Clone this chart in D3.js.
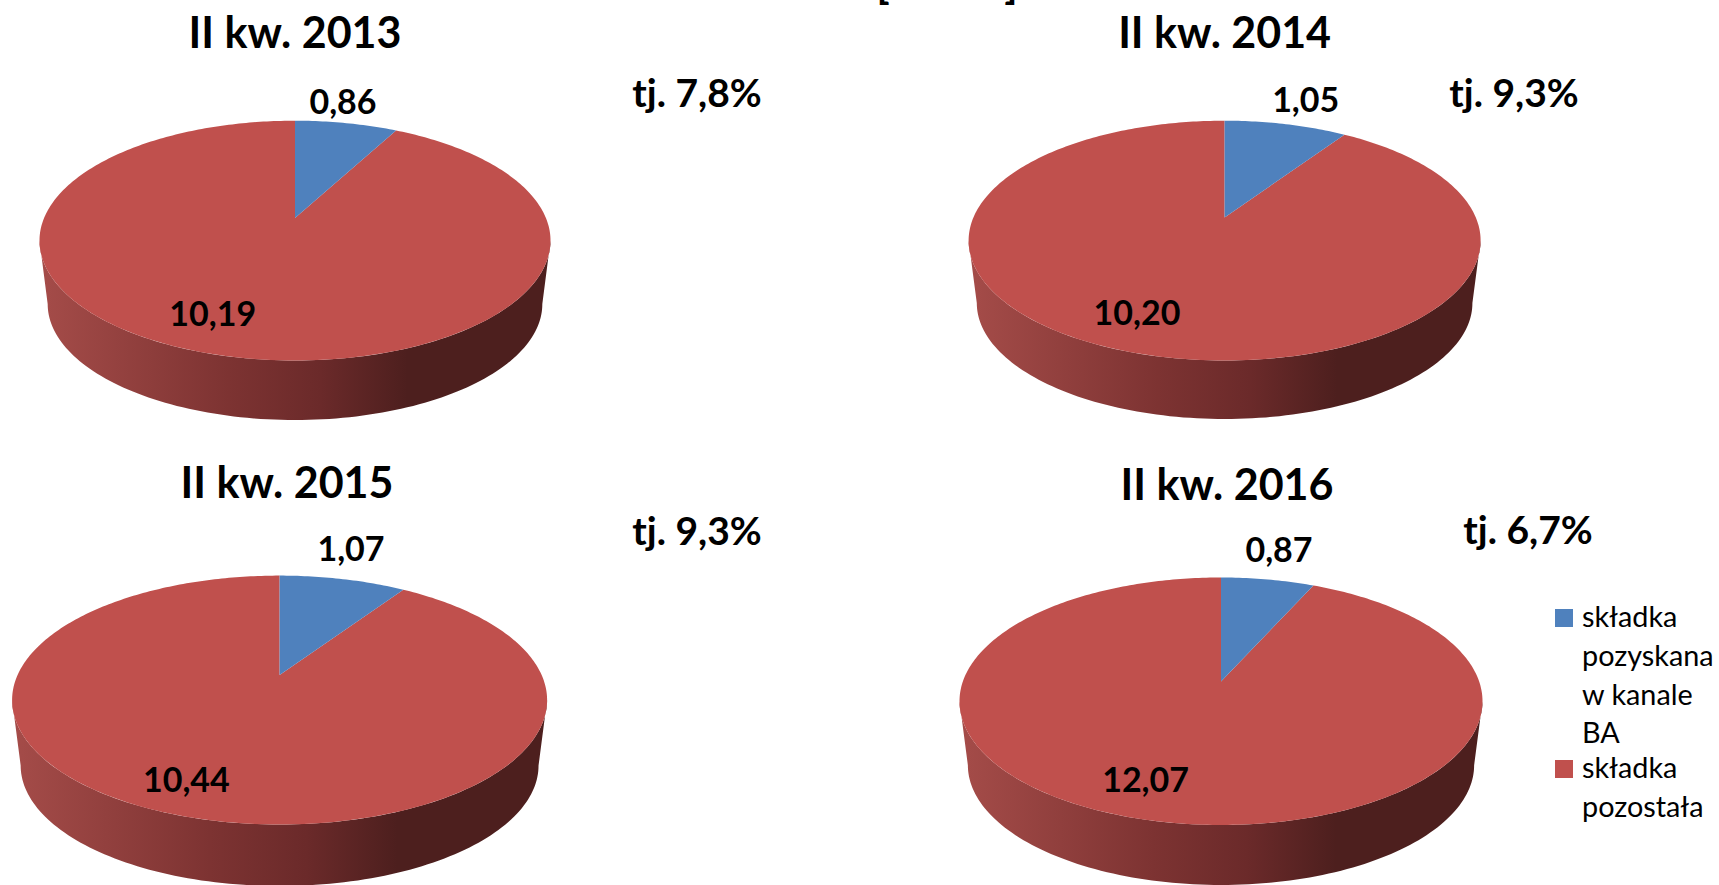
<!DOCTYPE html>
<html>
<head>
<meta charset="utf-8">
<script src="https://cdn.jsdelivr.net/npm/d3@7"></script>
<style>
    html, body { margin: 0; padding: 0; background: #fff; overflow: hidden; }
    svg { display: block; }
    text { font-family: Lato, Carlito, "Open Sans", sans-serif; fill: #000; }
    .bold { font-weight: 700; }
</style>
</head>
<body>
<svg id="chart" width="1719" height="885"></svg>
<script>
const mainTitle = "[mld zł]";
const quarters = ["II kw. 2013", "II kw. 2014", "II kw. 2015", "II kw. 2016"];
const seriesNames = ["składka pozyskana w kanale BA", "składka pozostała"];
const bancassurance = [0.86, 1.05, 1.07, 0.87];
const remaining = [10.19, 10.20, 10.44, 12.07];
const shares = [7.8, 9.3, 9.3, 6.7];

const colors = ["#4f81bd", "#c0504d"];

// Where each pie sits: top ellipse extents and the point the slices meet at
const pieLayout = [
    { cx: 295, rx: 255.5, top: 120.7, bottom: 360.5, apex: 218, wall: 420 },
    { cx: 1224.6, rx: 256, top: 120.7, bottom: 360.5, apex: 217.5, wall: 419 },
    { cx: 279.6, rx: 267.5, top: 575.6, bottom: 824.5, apex: 675, wall: 886 },
    { cx: 1221, rx: 261.5, top: 577.5, bottom: 825, apex: 681.5, wall: 885 }
];
const textLayout = [
    { title: [295, 48], small: [343, 114], big: [212.7, 325.6], share: [697, 107] },
    { title: [1224.6, 48], small: [1305.7, 112], big: [1137, 324.5], share: [1514, 107] },
    { title: [287, 497.6], small: [351, 561], big: [186.4, 791.5], share: [697, 545] },
    { title: [1227, 500], small: [1279, 562], big: [1145.6, 791.5], share: [1528, 544] }
];

const polish = d3.formatLocale({ decimal: ",", thousands: " ", grouping: [3], currency: ["", " zł"] });
const fmtValue = polish.format(".2f");
const fmtShare = polish.format(".1f");

const svg = d3.select("#chart");
const defs = svg.append("defs");
const pie = d3.pie().sort(null);
const line = d3.line();

svg.append("text")
    .attr("class", "bold")
    .attr("x", 947)
    .attr("y", -2)
    .attr("text-anchor", "middle")
    .attr("font-size", 43)
    .text(mainTitle);

// The pies are tilted discs seen in perspective, so a point on the unit disc
// goes through a homography: the centre lands above the middle of the ellipse.
function makeProjection(box) {
    const up = box.apex - box.top;
    const down = box.bottom - box.apex;
    const p = (down - up) / (down + up);
    const t = up * (1 + p);
    const s = box.rx * Math.sqrt(1 - p * p);
    const project = (angle, scale = 1, dy = 0) => {
        const X = Math.sin(angle);
        const Y = Math.cos(angle);
        const w = 1 + p * Y;
        return [box.cx + scale * s * X / w, box.apex + dy - scale * t * Y / w];
    };
    project.widest = Math.PI / 2 + Math.asin(p);
    return project;
}

function sliceOutline(project, box, arc) {
    const n = Math.ceil((arc.endAngle - arc.startAngle) * 60);
    const rim = d3.range(n + 1).map(i => project(arc.startAngle + (arc.endAngle - arc.startAngle) * i / n));
    return [[box.cx, box.apex], ...rim];
}

pieLayout.forEach((box, i) => {
    const project = makeProjection(box);
    const g = svg.append("g");

    const arcs = pie([bancassurance[i], remaining[i]]);

    // Side wall, lower ring is a bit smaller because it is further from the eye
    const ringScale = 0.968;
    const ringDy = box.wall - (box.apex + ringScale * (box.bottom - box.apex));
    const gradId = "wall" + i;
    const grad = defs.append("linearGradient")
        .attr("id", gradId)
        .attr("gradientUnits", "userSpaceOnUse")
        .attr("x1", box.cx - box.rx)
        .attr("x2", box.cx + box.rx)
        .attr("y1", 0)
        .attr("y2", 0);
    grad.append("stop").attr("offset", 0).attr("stop-color", "#a54c49");
    grad.append("stop").attr("offset", 0.37).attr("stop-color", "#7d3332");
    grad.append("stop").attr("offset", 0.55).attr("stop-color", "#6b2a2a");
    grad.append("stop").attr("offset", 0.72).attr("stop-color", "#4d1f1e");
    grad.append("stop").attr("offset", 1).attr("stop-color", "#4d1f1e");

    const a0 = project.widest;
    const a1 = 2 * Math.PI - project.widest;
    const steps = d3.range(121).map(k => a0 + (a1 - a0) * k / 120);
    const wallPts = steps.map(a => project(a))
        .concat(steps.slice().reverse().map(a => project(a, ringScale, ringDy)));
    g.append("path")
        .attr("d", line(wallPts) + "Z")
        .attr("fill", `url(#${gradId})`);

    // Top face
    g.selectAll("path.slice")
        .data(arcs.slice().reverse())
        .join("path")
        .attr("class", "slice")
        .attr("d", d => line(sliceOutline(project, box, d)) + "Z")
        .attr("fill", d => colors[d.index]);

    const pos = textLayout[i];
    g.append("text").attr("class", "bold")
        .attr("x", pos.title[0]).attr("y", pos.title[1])
        .attr("text-anchor", "middle").attr("font-size", 43)
        .text(quarters[i]);
    g.append("text").attr("class", "bold")
        .attr("x", pos.small[0]).attr("y", pos.small[1])
        .attr("text-anchor", "middle").attr("font-size", 34)
        .text(fmtValue(bancassurance[i]));
    g.append("text").attr("class", "bold")
        .attr("x", pos.big[0]).attr("y", pos.big[1])
        .attr("text-anchor", "middle").attr("font-size", 34)
        .text(fmtValue(remaining[i]));
    g.append("text").attr("class", "bold")
        .attr("x", pos.share[0]).attr("y", pos.share[1])
        .attr("text-anchor", "middle").attr("font-size", 39)
        .text("tj. " + fmtShare(shares[i]) + "%");
});

// Legend
const legendLines = [["składka", "pozyskana", "w kanale", "BA"], ["składka", "pozostała"]];
const legendTop = [609, 760];
const legend = svg.append("g");
seriesNames.forEach((name, i) => {
    legend.append("rect")
        .attr("x", 1555).attr("y", legendTop[i])
        .attr("width", 18).attr("height", 18)
        .attr("fill", colors[i]);
    legendLines[i].forEach((txt, j) => {
        legend.append("text")
            .attr("x", 1582)
            .attr("y", legendTop[i] + 18 + j * 38.8)
            .attr("font-size", 28.8)
            .text(txt);
    });
});
</script>
</body>
</html>
